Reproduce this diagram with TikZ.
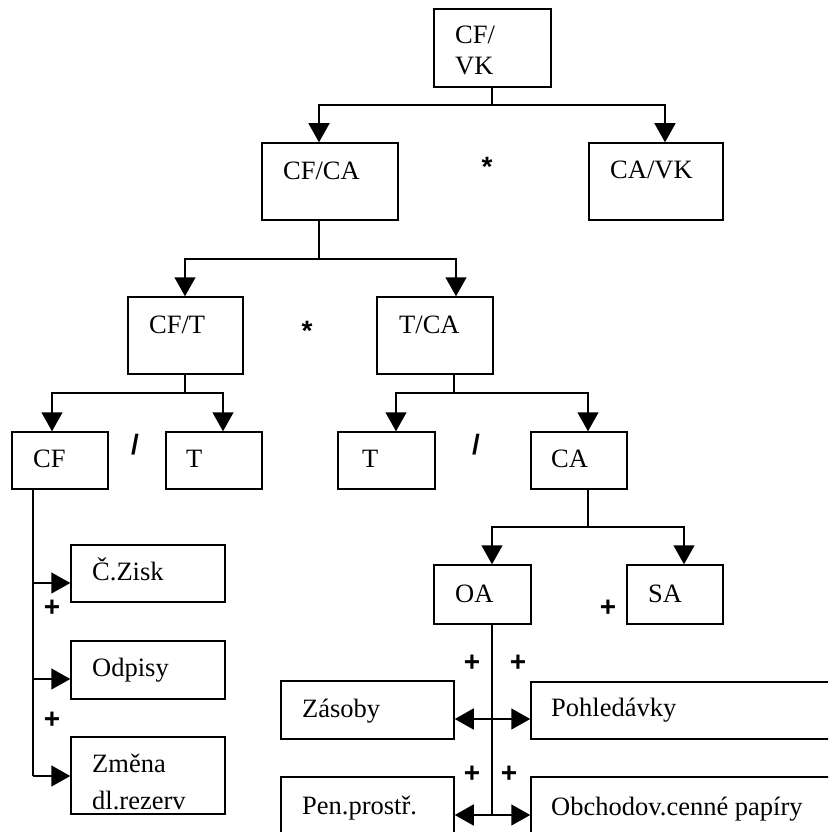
\documentclass[tikz,border=0pt]{standalone}
\usepackage{fontspec}
\setmainfont{Liberation Serif}
\newfontfamily\opfont{Liberation Sans}
\usetikzlibrary{arrows.meta,fit}
\begin{document}
\begin{tikzpicture}[x=1pt,y=-1pt,
  box/.style={draw, line width=1.5pt, inner sep=0pt},
  lbl/.style={anchor=base west, inner sep=0pt, font=\fontsize{26.5}{30}\selectfont},
  op/.style={inner sep=0pt, font=\opfont\bfseries\fontsize{28}{32}\selectfont},
  link/.style={line width=1.5pt},
  arr/.style={link, -{Triangle[length=19pt,width=21pt]}}]
\useasboundingbox (0,0) rectangle (828,832);
\clip (0,0) rectangle (828,832);

% ---- boxes ----
\node[box, fit={(434,9) (551,87)}]    (cfvk) {};
\node[box, fit={(262,143) (398,220)}] (cfca) {};
\node[box, fit={(589,143) (723,220)}] (cavk) {};
\node[box, fit={(128,297) (243,374)}] (cft) {};
\node[box, fit={(377,297) (493,374)}] (tca) {};
\node[box, fit={(12,432) (108,489)}]  (cf) {};
\node[box, fit={(166,432) (262,489)}] (tl) {};
\node[box, fit={(338,432) (435,489)}] (tr) {};
\node[box, fit={(531,432) (627,489)}] (ca) {};
\node[box, fit={(71,545) (225,602)}]  (zisk) {};
\node[box, fit={(71,641) (225,699)}]  (odpisy) {};
\node[box, fit={(71,737) (225,814)}]  (zmena) {};
\node[box, fit={(434,565) (531,624)}] (oa) {};
\node[box, fit={(627,565) (723,624)}] (sa) {};
\node[box, fit={(281,681) (454,739)}] (zasoby) {};
\node[box, fit={(531,682) (860,739)}] (pohled) {};
\node[box, fit={(281,777) (454,860)}] (pen) {};
\node[box, fit={(531,777) (860,860)}] (obch) {};

% ---- labels ----
\node[lbl] (lcfvka) at (455,44) {CF/};
\node[lbl] (lcfvkb) at (455,75) {VK};
\node[lbl] (lcfca) at (283,179) {CF/CA};
\node[lbl] (lcavk) at (610,178) {CA/VK};
\node[lbl] (lcft) at (149,333) {CF/T};
\node[lbl] (ltca) at (399,333) {T/CA};
\node[lbl] (lcf) at (33,467) {CF};
\node[lbl] (ltl) at (186,467) {T};
\node[lbl] (ltr) at (362,467) {T};
\node[lbl] (lca) at (551,467) {CA};
\node[lbl] (lzisk) at (92,580) {Č.Zisk};
\node[lbl] (lodpisy) at (92,676) {Odpisy};
\node[lbl] (lzmenaa) at (92,772) {Změna};
\node[lbl] (lzmenab) at (92,809) {dl.rezerv};
\node[lbl] (loa) at (455,602) {OA};
\node[lbl] (lsa) at (648,602) {SA};
\node[lbl] (lzasoby) at (302,717) {Zásoby};
\node[lbl] (lpohled) at (551,716) {Pohledávky};
\node[lbl] (lpen) at (302,814) {Pen.prostř.};
\node[lbl] (lobch) at (551,815) {Obchodov.cenné papíry};

% ---- operators ----
\node[op] (s1) at (487,167) {*};
\node[op] (s2) at (307,331) {*};
\node[op] (d1) at (135,445) {/};
\node[op] (d2) at (476,445) {/};
\node[op] (p1) at (52,608) {+};
\node[op] (p2) at (52,720) {+};
\node[op] (p3) at (608,608) {+};
\node[op] (p4) at (472,663) {+};
\node[op] (p5) at (518,663) {+};
\node[op] (p6) at (472,774) {+};
\node[op] (p7) at (509,774) {+};

% ---- junctions ----
\coordinate (j1) at (492,105);
\coordinate (j2) at (319,259);
\coordinate (j3) at (185,393);
\coordinate (j4) at (454,393);
\coordinate (j5) at (588,527);
\coordinate (k1) at (33,583);
\coordinate (k2) at (33,679);
\coordinate (k3) at (33,776);
\coordinate (m1) at (492,719);
\coordinate (m2) at (492,815);
\coordinate (x1) at (319,0);
\coordinate (x2) at (665,0);
\coordinate (x3) at (185,0);
\coordinate (x4) at (456,0);
\coordinate (x5) at (52,0);
\coordinate (x6) at (223,0);
\coordinate (x7) at (396,0);
\coordinate (x8) at (588,0);
\coordinate (x9) at (492,0);
\coordinate (x10) at (684,0);

% ---- connectors ----
\draw[link] (cfvk.south -| j1) -- (j1);
\draw[arr] (j1) -| (cfca.north -| x1);
\draw[arr] (j1) -| (cavk.north -| x2);

\draw[link] (cfca.south -| j2) -- (j2);
\draw[arr] (j2) -| (cft.north -| x3);
\draw[arr] (j2) -| (tca.north -| x4);

\draw[link] (cft.south -| j3) -- (j3);
\draw[arr] (j3) -| (cf.north -| x5);
\draw[arr] (j3) -| (tl.north -| x6);

\draw[link] (tca.south -| j4) -- (j4);
\draw[arr] (j4) -| (tr.north -| x7);
\draw[arr] (j4) -| (ca.north -| x8);

\draw[link] (cf.south -| k1) -- (k3);
\draw[arr] (k1) -- (zisk.west |- k1);
\draw[arr] (k2) -- (odpisy.west |- k2);
\draw[arr] (k3) -- (zmena.west |- k3);

\draw[link] (ca.south -| j5) -- (j5);
\draw[arr] (j5) -| (oa.north -| x9);
\draw[arr] (j5) -| (sa.north -| x10);

\draw[link] (oa.south -| m1) -- (m2);
\draw[arr] (m1) -- (zasoby.east |- m1);
\draw[arr] (m1) -- (pohled.west |- m1);
\draw[arr] (m2) -- (pen.east |- m2);
\draw[arr] (m2) -- (obch.west |- m2);
\end{tikzpicture}
\end{document}
